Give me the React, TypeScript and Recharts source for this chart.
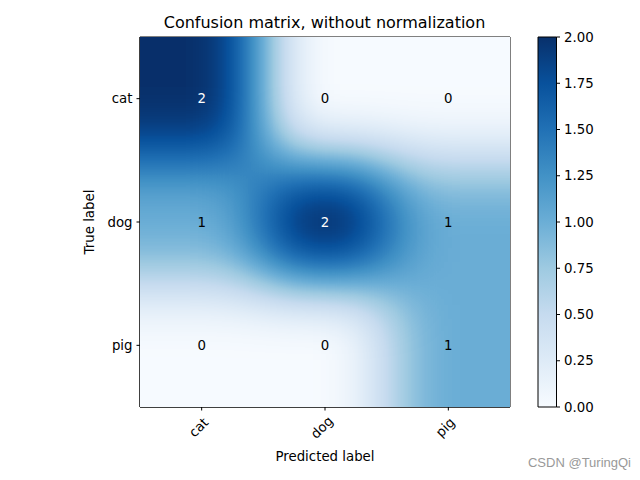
import React from "react";
import {
  ScatterChart,
  Scatter,
  XAxis,
  YAxis,
  ReferenceArea,
} from "recharts";

const categories = ["cat", "dog", "pig"];
const catRow = [2, 0, 0];
const dogRow = [1, 2, 1];
const pigRow = [0, 0, 1];
const colorbarTicks = [0, 0.25, 0.5, 0.75, 1, 1.25, 1.5, 1.75, 2];

// Blues colormap stops
const blues = ["#f7fbff", "#deebf7", "#c6dbef", "#9ecae1", "#6baed6", "#4292c6", "#2171b5", "#08519c", "#08306b"];

const hex = (h: string) => [1, 3, 5].map((i) => parseInt(h.slice(i, i + 2), 16));
const channel = (k: number) => blues.map((c) => (hex(c)[k] / 255).toFixed(4)).join(" ");

const rows = [catRow, dogRow, pigRow];
const cells = rows.flatMap((row, r) => row.map((v, c) => ({ x: c, y: r, v })));
const cbPoints = colorbarTicks.map((t) => ({ x: 0.5, y: t }));
const vmax = 2;

const FONT = "DejaVu Sans, sans-serif";
const CELL = 370 / 3;
const EXT = 160;

// cells drawn as grey levels (value), blurred, then mapped through Blues by the filter
const CellShape = (props: any) => {
  const { cx, cy, payload } = props;
  const left = payload.x === 0 ? EXT : 0;
  const right = payload.x === 2 ? EXT : 0;
  const top = payload.y === 0 ? EXT : 0;
  const bottom = payload.y === 2 ? EXT : 0;
  const g = Math.round((payload.v / vmax) * 255);
  return (
    <rect
      x={cx - CELL / 2 - left}
      y={cy - CELL / 2 - top}
      width={CELL + left + right + 0.5}
      height={CELL + top + bottom + 0.5}
      fill={`rgb(${g},${g},${g})`}
    />
  );
};

const AnnotShape = (props: any) => {
  const { cx, cy, payload } = props;
  return (
    <text
      x={cx}
      y={cy}
      textAnchor="middle"
      dominantBaseline="central"
      fontSize={13.33}
      fontFamily={FONT}
      fill={payload.v > vmax / 2 ? "#ffffff" : "#000000"}
    >
      {payload.v}
    </text>
  );
};

const NoShape = () => <g />;

const RotTick = (props: any) => {
  const { x, y, payload } = props;
  return (
    <g transform={`translate(${x},${y})`}>
      <text
        x={-3}
        y={15}
        textAnchor="middle"
        dominantBaseline="central"
        transform="rotate(-45,-3,15)"
        fontSize={13.33}
        fontFamily={FONT}
        fill="#000"
      >
        {categories[payload.value]}
      </text>
    </g>
  );
};

export default function App() {
  return (
    <div style={{ position: "absolute", left: 0, top: 0, width: 640, height: 480, background: "#fff", fontFamily: FONT }}>
      <style>{`.hm-cells { filter: url(#hmBlur); }`}</style>
      <svg width={0} height={0} style={{ position: "absolute" }}>
        <defs>
          <filter id="hmBlur" x="-50%" y="-50%" width="200%" height="200%" colorInterpolationFilters="sRGB">
            <feGaussianBlur stdDeviation={32} />
            <feComponentTransfer>
              <feFuncR type="table" tableValues={channel(0)} />
              <feFuncG type="table" tableValues={channel(1)} />
              <feFuncB type="table" tableValues={channel(2)} />
            </feComponentTransfer>
          </filter>
          <linearGradient id="cbGrad" x1="0" y1="1" x2="0" y2="0">
            {blues.map((c, i) => (
              <stop key={i} offset={i / (blues.length - 1)} stopColor={c} />
            ))}
          </linearGradient>
        </defs>
      </svg>

      <div style={{ position: "absolute", left: 0, top: 0 }}>
        <ScatterChart width={640} height={480} margin={{ top: 37, right: 130, bottom: 0, left: 0 }}>
          <XAxis
            type="number"
            dataKey="x"
            domain={[-0.5, 2.5]}
            ticks={[0, 1, 2]}
            allowDataOverflow
            height={73}
            tickSize={3.5}
            tickMargin={2}
            stroke="#000"
            tick={<RotTick />}
            label={{ value: "Predicted label", position: "center", dy: 13, fill: "#000", fontSize: 13.33 }}
          />
          <YAxis
            type="number"
            dataKey="y"
            domain={[-0.5, 2.5]}
            reversed
            ticks={[0, 1, 2]}
            allowDataOverflow
            width={140}
            tickSize={3.5}
            tickMargin={4}
            stroke="#000"
            tickFormatter={(i: number) => categories[i]}
            tick={{ fill: "#000", fontSize: 13.33 }}
            label={{ value: "True label", angle: -90, position: "center", dx: 19, fill: "#000", fontSize: 13.33 }}
          />
          <Scatter className="hm-cells" data={cells} shape={<CellShape />} isAnimationActive={false} />
          <Scatter data={cells} shape={<AnnotShape />} isAnimationActive={false} />
          <ReferenceArea x1={-0.5} x2={2.5} y1={-0.5} y2={2.5} fill="none" fillOpacity={0} stroke="#000" strokeWidth={1} />
        </ScatterChart>
      </div>

      <div style={{ position: "absolute", left: 0, top: 0 }}>
        <ScatterChart width={640} height={480} margin={{ top: 37, right: 0, bottom: 73, left: 538 }}>
          <XAxis type="number" dataKey="x" domain={[0, 1]} hide />
          <YAxis
            type="number"
            dataKey="y"
            orientation="right"
            domain={[0, 2]}
            ticks={colorbarTicks}
            width={83.5}
            tickSize={3.5}
            tickMargin={4}
            stroke="#000"
            tickFormatter={(v: number) => v.toFixed(2)}
            tick={{ fill: "#000", fontSize: 13.33, textAnchor: "start" }}
          />
          <Scatter data={cbPoints} shape={<NoShape />} isAnimationActive={false} />
          <ReferenceArea x1={0} x2={1} y1={0} y2={2} fill="url(#cbGrad)" fillOpacity={1} stroke="#000" strokeWidth={1} />
        </ScatterChart>
      </div>

      <svg width={640} height={480} style={{ position: "absolute", left: 0, top: 0, pointerEvents: "none" }}>
        <text x={324.5} y={22} textAnchor="middle" dominantBaseline="central" fontSize={16} fontFamily={FONT} fill="#000">
          Confusion matrix, without normalization
        </text>
        <text x={631} y={462} textAnchor="end" dominantBaseline="central" fontSize={13} fontFamily="Liberation Sans, sans-serif" fill="#999">
          CSDN @TuringQi
        </text>
      </svg>
    </div>
  );
}
